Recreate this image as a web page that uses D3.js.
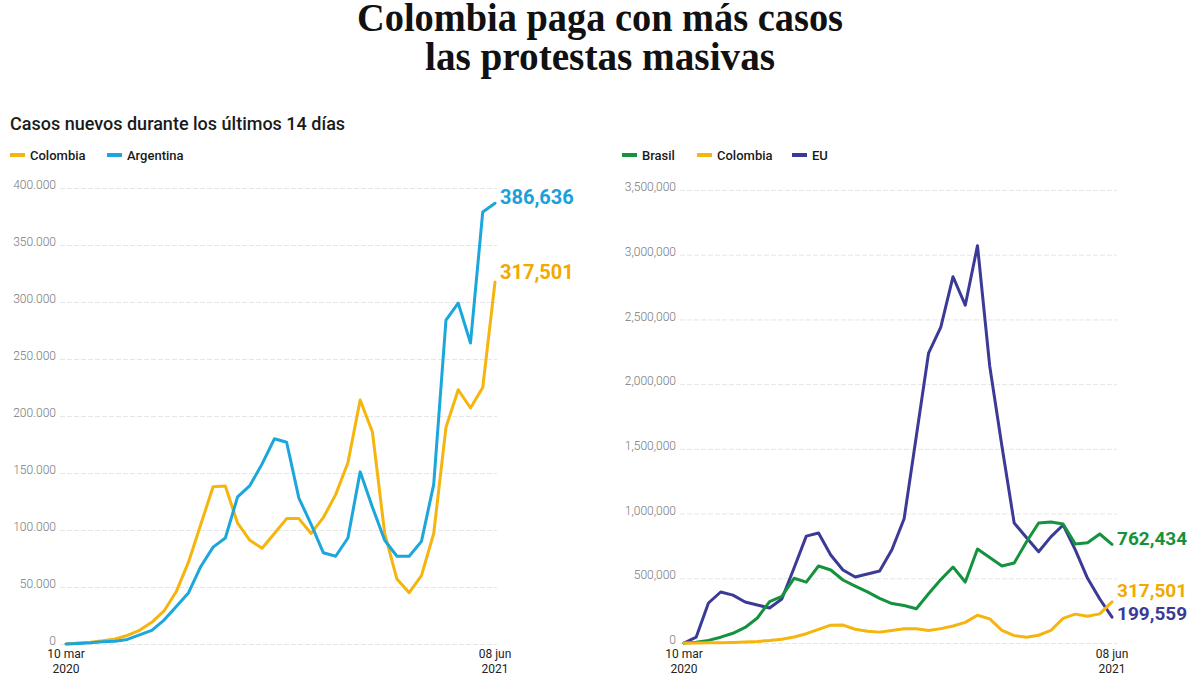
<!DOCTYPE html>
<html><head><meta charset="utf-8">
<script src="https://cdn.jsdelivr.net/npm/d3@7"></script>
<style>body{margin:0;background:#fff}svg{display:block}</style>
</head><body>
<svg id="c" width="1200" height="675"></svg>
<script>
// ---- data ----
const titleLines = ["Colombia paga con más casos", "las protestas masivas"];
const subtitle = "Casos nuevos durante los últimos 14 días";
const periods = d3.range(36); // 14-day periods from 10 mar 2020 to 08 jun 2021
const xTickStart = ["10 mar", "2020"];
const xTickEnd = ["08 jun", "2021"];

const colombia = [0, 800, 1500, 2800, 4500, 7500, 12000, 19000, 29000, 46000, 72000, 105000, 138000, 138500, 106000, 91000, 84000, 97000, 110000, 110000, 97000, 111000, 131000, 159000, 214000, 186000, 97000, 57000, 45000, 60000, 97000, 190000, 223000, 207000, 225000, 317501];
const argentina = [0, 500, 1000, 2000, 2500, 4000, 8000, 12000, 21000, 33000, 45000, 68000, 85000, 93000, 129000, 139000, 158000, 180000, 177000, 128000, 105000, 80000, 77000, 93000, 151000, 120000, 91000, 77000, 77000, 90000, 140000, 284000, 299000, 264000, 379000, 386636];
const brasil = [0, 5000, 20000, 45000, 75000, 120000, 193000, 320000, 360000, 500000, 470000, 595000, 564000, 487000, 440000, 395000, 345000, 305000, 290000, 265000, 380000, 490000, 587000, 471000, 726000, 660000, 595000, 618000, 780000, 927000, 935000, 920000, 765000, 775000, 842000, 762434];
const eu = [0, 46000, 309000, 394000, 370000, 317000, 294000, 270000, 340000, 580000, 826000, 850000, 680000, 564000, 510000, 533000, 556000, 720000, 960000, 1600000, 2240000, 2440000, 2830000, 2610000, 3070000, 2140000, 1520000, 927000, 815000, 705000, 820000, 912000, 720000, 500000, 340000, 199559];

const leftTicks = [0, 50000, 100000, 150000, 200000, 250000, 300000, 350000, 400000];
const leftTickLabels = ["0", "50.000", "100.000", "150.000", "200.000", "250.000", "300.000", "350.000", "400.000"];
const rightTicks = [0, 500000, 1000000, 1500000, 2000000, 2500000, 3000000, 3500000];
const rightTickLabels = ["0", "500,000", "1,000,000", "1,500,000", "2,000,000", "2,500,000", "3,000,000", "3,500,000"];

const leftEndLabels = ["386,636", "317,501"];
const rightEndLabels = ["762,434", "317,501", "199,559"];

// ---- styles ----
const C = {col: "#F6B40E", arg: "#1BA6DC", bra: "#15923D", eu: "#3C3A97",
           colText: "#F2A900", argText: "#1AA0DA"};
const font = "Roboto, 'Open Sans', sans-serif";

const svg = d3.select("#c");
svg.append("rect").attr("width", 1200).attr("height", 675).attr("fill", "#fff");

// Title
svg.selectAll("text.title").data(titleLines).join("text")
  .attr("class", "title")
  .attr("x", 600).attr("y", (d, i) => 31 + i * 39)
  .attr("text-anchor", "middle")
  .attr("font-family", "'Liberation Serif', 'DejaVu Serif', serif")
  .attr("font-weight", "bold").attr("font-size", 40)
  .attr("textLength", (d, i) => i === 0 ? 486 : 350)
  .attr("lengthAdjust", "spacingAndGlyphs")
  .attr("fill", "#111").text(d => d);

svg.append("text").attr("x", 10).attr("y", 130)
  .attr("font-family", font).attr("font-weight", 500).attr("font-size", 18)
  .attr("fill", "#1a1a1a").text(subtitle);

function legend(items, y) {
  const g = svg.append("g");
  items.forEach(it => {
    g.append("line").attr("x1", it.x).attr("x2", it.x + 15).attr("y1", y).attr("y2", y)
      .attr("stroke", it.color).attr("stroke-width", 4);
    g.append("text").attr("x", it.x + 20).attr("y", y + 4.5)
      .attr("font-family", font).attr("font-weight", 500).attr("font-size", 13)
      .attr("fill", "#1a1a1a").text(it.label);
  });
}

function panel(opt) {
  const x = d3.scalePoint().domain(periods).range([opt.x0, opt.x1]);
  const y = d3.scaleLinear().domain([0, opt.yMax]).range([opt.yBottom, opt.yTop]);
  const g = svg.append("g");
  const ax = d3.axisLeft(y).tickValues(opt.ticks)
    .tickFormat((d, i) => opt.tickLabels[i])
    .tickSize(-(opt.gridEnd - opt.gridStart)).tickPadding(4);
  const axg = g.append("g").attr("transform", `translate(${opt.gridStart},0)`).call(ax);
  axg.select(".domain").remove();
  axg.selectAll(".tick line").attr("stroke", "#e6e6e6").attr("stroke-dasharray", "5,2");
  axg.selectAll(".tick text").attr("font-family", font).attr("font-weight", 300)
    .attr("font-size", 12).attr("fill", "#777").attr("dy", "0.05em");
  [[periods[0], xTickStart], [periods[periods.length - 1], xTickEnd]].forEach(([p, lab]) => {
    lab.forEach((t, k) => {
      g.append("text").attr("x", x(p)).attr("y", 658 + k * 15)
        .attr("text-anchor", "middle").attr("font-family", font)
        .attr("font-size", 12).attr("fill", "#222").text(t);
    });
  });
  const line = d3.line().x((d, i) => x(periods[i])).y(d => y(d));
  opt.series.forEach(s => {
    g.append("path").attr("d", line(s.values)).attr("fill", "none")
      .attr("stroke", s.color).attr("stroke-width", 3)
      .attr("stroke-linejoin", "round").attr("stroke-linecap", "round");
  });
  opt.series.forEach(s => {
    g.append("text").attr("x", opt.x1 + opt.labelDx)
      .attr("y", y(s.values[s.values.length - 1]) + s.dy)
      .attr("font-family", font).attr("font-weight", "bold").attr("font-size", opt.labelSize)
      .attr("fill", s.textColor).text(s.label);
  });
}

legend([{x: 10, color: C.col, label: "Colombia"}, {x: 107, color: C.arg, label: "Argentina"}], 155);
legend([{x: 622, color: C.bra, label: "Brasil"}, {x: 697, color: C.col, label: "Colombia"}, {x: 792, color: C.eu, label: "EU"}], 155);

panel({x0: 66, x1: 495, yBottom: 644, yTop: 188, yMax: 400000, gridStart: 60, gridEnd: 497,
  ticks: leftTicks, tickLabels: leftTickLabels, labelDx: 5, labelSize: 20,
  series: [
    {values: colombia, color: C.col, label: leftEndLabels[1], textColor: C.colText, dy: -3},
    {values: argentina, color: C.arg, label: leftEndLabels[0], textColor: C.argText, dy: 1}
  ]});

panel({x0: 684, x1: 1112, yBottom: 643, yTop: 190, yMax: 3500000, gridStart: 680, gridEnd: 1117,
  ticks: rightTicks, tickLabels: rightTickLabels, labelDx: 5, labelSize: 19,
  series: [
    {values: eu, color: C.eu, label: rightEndLabels[2], textColor: C.eu, dy: 3},
    {values: brasil, color: C.bra, label: rightEndLabels[0], textColor: C.bra, dy: 1},
    {values: colombia, color: C.col, label: rightEndLabels[1], textColor: C.colText, dy: -5}
  ]});
</script>
</body></html>
